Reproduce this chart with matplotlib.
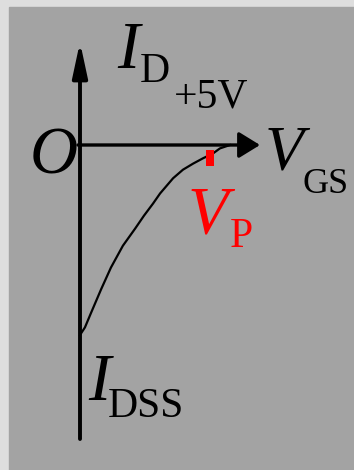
import numpy as np
import matplotlib.pyplot as plt
from matplotlib.patches import Rectangle

# transfer curve of the JFET: gate-source voltage (V) vs drain current (mA)
vgs = [0, 0.19, 0.42, 0.81, 1.19, 1.65, 2.12, 2.46, 2.81, 3.08, 3.58,
       3.96, 4.35, 4.73, 5.12, 5.38, 5.77]
i_d = [-10, -9.6, -8.85, -7.6, -6.45, -5.3, -4.4, -3.72, -3.08, -2.55,
       -1.75, -1.3, -0.98, -0.7, -0.44, -0.18, 0]
V_P = 5.0          # pinch-off voltage
I_DSS = -10.0      # current at V_GS = 0

W, H = 354, 470
x0, sx = 80, 26.0   # pixel of V=0, pixels per volt
y0, sy = 145, 19.0  # pixel of I=0, pixels per mA

def X(px):
    return (px - x0) / sx

def Y(py):
    return (y0 - py) / sy

fig = plt.figure(figsize=(W / 100, H / 100), dpi=100)
fig.patch.set_facecolor('#dedede')
fig.patches.append(Rectangle((9 / W, 0), 1 - 9 / W, 1 - 7 / H,
                             transform=fig.transFigure, color='#a3a3a3', zorder=-10))

ax = fig.add_axes([0, 0, 1, 1])
ax.set_xlim(X(0), X(W))
ax.set_ylim(Y(H), Y(0))
ax.axis('off')
ax.patch.set_alpha(0)

# axes with arrows
ax.annotate('', xy=(0, Y(42)), xytext=(0, Y(439)),
            arrowprops=dict(arrowstyle='-|>,head_length=2.1,head_width=0.45',
                            lw=2.8, color='black', shrinkA=0, shrinkB=0))
ax.annotate('', xy=(X(260), 0), xytext=(X(78), 0),
            arrowprops=dict(arrowstyle='-|>,head_length=1.3,head_width=0.8',
                            lw=2.4, color='black', shrinkA=0, shrinkB=0))

ax.plot(vgs, i_d, color='black', lw=1.6)

# pinch-off marker
ax.bar([V_P], [-0.85], width=0.27, bottom=-0.26, color='red', zorder=3)

serif = 'Liberation Serif'
big, small = 48, 30

def txt(px, py, s, size, color='black', italic=False, ha='left'):
    ax.text(X(px), Y(py), s, fontsize=size, family=serif, color=color,
            style='italic' if italic else 'normal', ha=ha, va='baseline')

txt(128, 68, 'I', big, italic=True, ha='center')
txt(140, 82, 'D', small)
txt(174, 108, '+%gV' % V_P, 30)
txt(54, 173, 'O', big, italic=True, ha='center')
txt(284, 170, 'V', 46, italic=True, ha='center')
txt(303, 193, 'GS', 26)
txt(208, 233, 'V', big, color='red', italic=True, ha='center')
txt(230, 247, 'P', small, color='red')
txt(99, 400, 'I', big, italic=True, ha='center')
txt(108, 417, 'DSS', small)

fig.savefig('out.png', dpi=100, facecolor=fig.get_facecolor())
